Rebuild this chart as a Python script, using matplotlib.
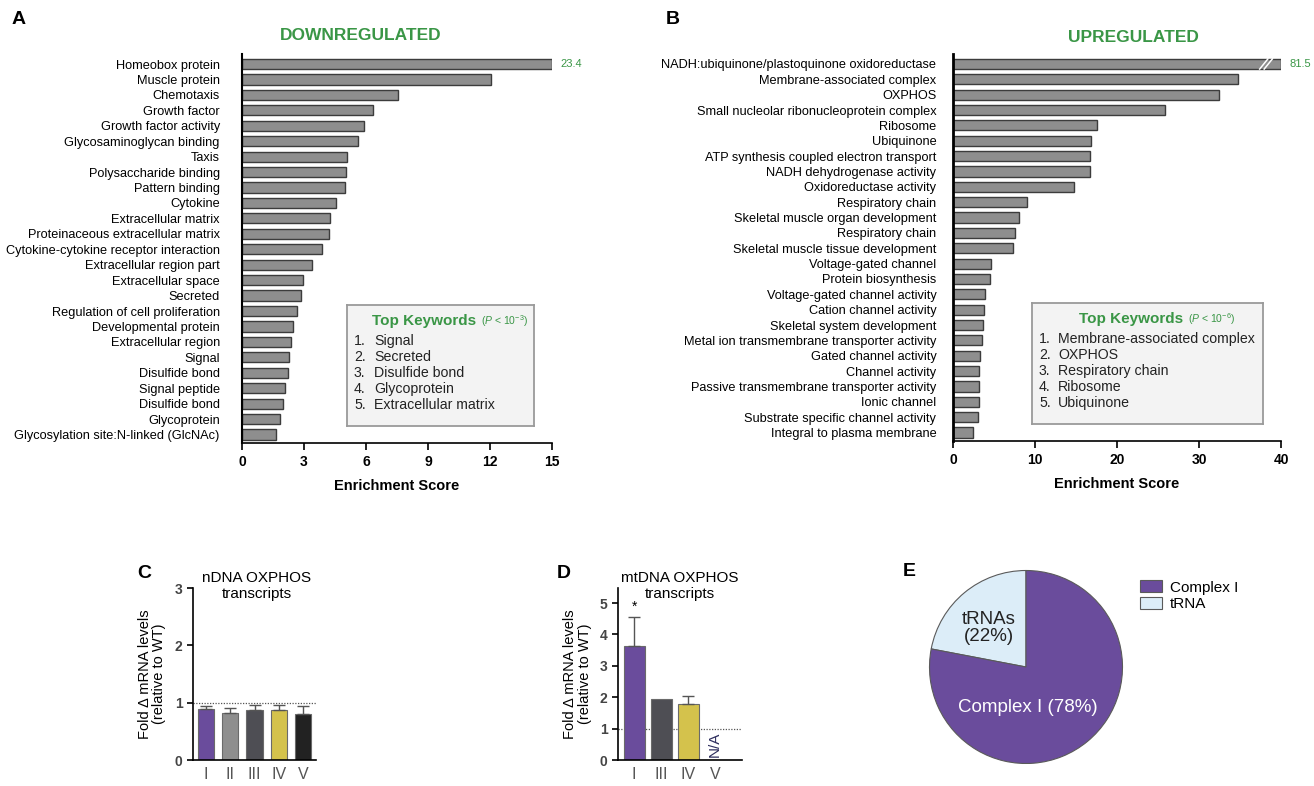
import matplotlib
matplotlib.use("Agg")
import matplotlib.pyplot as plt
from matplotlib.patches import Patch
import numpy as np

plt.rcParams['font.family'] = ['Liberation Sans', 'DejaVu Sans']
plt.rcParams['mathtext.fontset'] = 'custom'
plt.rcParams['mathtext.rm'] = 'Liberation Sans'
plt.rcParams['mathtext.it'] = 'Liberation Sans:italic'

# ---- data ----
down_terms = ["Homeobox protein", "Muscle protein", "Chemotaxis", "Growth factor",
              "Growth factor activity", "Glycosaminoglycan binding", "Taxis",
              "Polysaccharide binding", "Pattern binding", "Cytokine",
              "Extracellular matrix", "Proteinaceous extracellular matrix",
              "Cytokine-cytokine receptor interaction", "Extracellular region part",
              "Extracellular space", "Secreted", "Regulation of cell proliferation",
              "Developmental protein", "Extracellular region", "Signal",
              "Disulfide bond", "Signal peptide", "Disulfide bond", "Glycoprotein",
              "Glycosylation site:N-linked (GlcNAc)"]
down_scores = [23.4, 12.05, 7.57, 6.35, 5.91, 5.62, 5.09, 5.01, 5.0, 4.56,
               4.25, 4.22, 3.85, 3.40, 2.95, 2.85, 2.64, 2.48, 2.35, 2.29,
               2.24, 2.10, 2.0, 1.86, 1.66]
down_keywords = ["Signal", "Secreted", "Disulfide bond", "Glycoprotein",
                 "Extracellular matrix"]

up_terms = ["NADH:ubiquinone/plastoquinone oxidoreductase", "Membrane-associated complex",
            "OXPHOS", "Small nucleolar ribonucleoprotein complex", "Ribosome",
            "Ubiquinone", "ATP synthesis coupled electron transport",
            "NADH dehydrogenase activity", "Oxidoreductase activity",
            "Respiratory chain", "Skeletal muscle organ development",
            "Respiratory chain", "Skeletal muscle tissue development",
            "Voltage-gated channel", "Protein biosynthesis",
            "Voltage-gated channel activity", "Cation channel activity",
            "Skeletal system development", "Metal ion transmembrane transporter activity",
            "Gated channel activity", "Channel activity",
            "Passive transmembrane transporter activity", "Ionic channel",
            "Substrate specific channel activity", "Integral to plasma membrane"]
up_scores = [81.5, 34.7, 32.4, 25.9, 17.56, 16.83, 16.75, 16.67, 14.8, 9.07,
             8.1, 7.6, 7.28, 4.68, 4.56, 3.95, 3.83, 3.62, 3.5, 3.34,
             3.22, 3.22, 3.13, 3.05, 2.4]
up_keywords = ["Membrane-associated complex", "OXPHOS", "Respiratory chain",
               "Ribosome", "Ubiquinone"]

ndna_complexes = ["I", "II", "III", "IV", "V"]
ndna_mean = [0.885, 0.82, 0.88, 0.87, 0.81]
ndna_err = [0.055, 0.08, 0.075, 0.085, 0.14]

mtdna_complexes = ["I", "III", "IV", "V"]
mtdna_mean = [3.63, 1.94, 1.79, 0.0]
mtdna_err = [0.92, 0.0, 0.24, 0.0]

pie_labels = ["Complex I", "tRNA"]
pie_share = [78, 22]

W, H = 1314, 786
GREEN = "#3a9646"
PURPLE = "#6a4c9c"
LIGHTBLUE = "#dcedf8"
BAR_GRAY = "#8e8e8e"
BAR_EDGE = "#3c3c3c"

fig = plt.figure(figsize=(W / 100, H / 100), dpi=100)


def px_axes(left, top, right, bottom, **kw):
    return fig.add_axes([left / W, 1 - bottom / H, (right - left) / W, (bottom - top) / H], **kw)


def fig_text(x, y, s, **kw):
    fig.text(x / W, 1 - y / H, s, **kw)


def enrichment_panel(ax, terms, scores, xmax, xticks, lab_pad):
    y = np.arange(len(terms))
    shown = np.minimum(scores, xmax)
    ax.barh(y, shown, height=0.66, color=BAR_GRAY, edgecolor=BAR_EDGE, linewidth=1.0)
    ax.set_xlim(0, xmax)
    ax.set_ylim(len(terms) - 0.45, -0.65)
    ax.set_yticks(y)
    ax.set_yticklabels(terms, fontsize=9.2)
    ax.tick_params(axis='y', length=0, pad=lab_pad)
    ax.set_xticks(xticks)
    ax.set_xticklabels([str(t) for t in xticks], fontsize=10, fontweight='bold')
    ax.tick_params(axis='x', length=5, width=1.2, direction='out')
    for s in ['top', 'right']:
        ax.spines[s].set_visible(False)
    ax.spines['left'].set_linewidth(1.5)
    ax.spines['bottom'].set_linewidth(1.2)
    ax.set_xlabel("Enrichment Score", fontsize=10.5, fontweight='bold', labelpad=7)
    # value of the clipped top bar
    ax.text(xmax * 1.027, 0, f"{scores[0]}", color=GREEN, fontsize=8, va='center',
            ha='left', clip_on=False)


def keyword_box(left, top, right, bottom, ptxt, items, num_x, txt_x):
    bx = px_axes(left, top, right, bottom)
    bx.set_facecolor("#f3f3f3")
    for s in bx.spines.values():
        s.set_edgecolor("#9a9a9a")
        s.set_linewidth(1.3)
    bx.set_xticks([])
    bx.set_yticks([])
    bx.set_xlim(left, right)
    bx.set_ylim(bottom, top)
    t = bx.text((left + right) / 2 - 16, top + 16, "Top Keywords", color=GREEN,
                fontsize=11, fontweight='bold', ha='center', va='center')
    bx.annotate(ptxt, xy=(1, 0.5), xycoords=t, xytext=(3, 0), textcoords='offset points',
                color=GREEN, fontsize=7.5, va='center', ha='left')
    for i, it in enumerate(items):
        yy = top + 36 + i * 16
        bx.text(num_x, yy, f"{i + 1}.", fontsize=10.2, va='center', ha='left', color="#222222")
        bx.text(txt_x, yy, it, fontsize=10.2, va='center', ha='left', color="#222222")


# ---- Panel A ----
axA = px_axes(242, 54, 552, 443)
enrichment_panel(axA, down_terms, down_scores, 15, [0, 3, 6, 9, 12, 15], 16)
fig_text(361, 36, "DOWNREGULATED", color=GREEN, fontsize=12.5, fontweight='bold', ha='center', va='center')
fig_text(12, 20, "A", fontsize=14, fontweight='bold', va='center')
keyword_box(347, 305, 534, 426, "($P$ < 10$^{-3}$)", down_keywords, 354, 374)

# ---- Panel B ----
axB = px_axes(953, 54, 1281, 441)
enrichment_panel(axB, up_terms, up_scores, 40, [0, 10, 20, 30, 40], 12)
axB.spines['left'].set_linewidth(2.0)
# axis-break marks on the clipped bar
for dx in (0, 0.55):
    axB.plot([37.4 + dx, 38.4 + dx], [0.33, -0.33], color='white', lw=1.1, zorder=5)
fig_text(1133, 38, "UPREGULATED", color=GREEN, fontsize=12.5, fontweight='bold', ha='center', va='center')
fig_text(666, 20, "B", fontsize=14, fontweight='bold', va='center')
keyword_box(1032, 303, 1263, 424, "($P$ < 10$^{-6}$)", up_keywords, 1039, 1058)


def small_bar_panel(ax, cats, means, errs, colors, ymax, yticks, width, xlim):
    x = np.arange(len(cats))
    ax.axhline(1, color='#555555', lw=0.9, ls=(0, (1, 1.2)), zorder=1)
    ax.bar(x, means, width=width, color=colors, edgecolor='#6a6a6a', linewidth=0.8, zorder=2)
    for xi, m, e in zip(x, means, errs):
        if e > 0:
            ax.errorbar(xi, m, yerr=[[0], [e]], color='#555555', lw=1.0, capsize=4,
                        capthick=1.0, zorder=3)
    ax.set_xlim(*xlim)
    ax.set_ylim(0, ymax)
    ax.set_yticks(yticks)
    ax.set_yticklabels([str(t) for t in yticks], fontsize=10, fontweight='bold', color='#444444')
    ax.set_xticks(x)
    ax.set_xticklabels(cats, fontsize=11.5, color='#555555')
    ax.tick_params(axis='x', length=0, pad=5)
    ax.tick_params(axis='y', length=4, width=1.2)
    for s in ['top', 'right']:
        ax.spines[s].set_visible(False)
    ax.spines['left'].set_linewidth(1.2)
    ax.spines['bottom'].set_linewidth(1.2)
    ax.set_ylabel("Fold \u0394 mRNA levels\n(relative to WT)", fontsize=10.5, labelpad=6,
                  linespacing=1.05)
    return x


# ---- Panel C ----
axC = px_axes(193, 588, 316, 760)
small_bar_panel(axC, ndna_complexes, ndna_mean, ndna_err,
                [PURPLE, "#8e8e8e", "#4e4e54", "#d4c24c", "#222222"],
                3, [0, 1, 2, 3], 0.68, (-0.53, 4.53))
fig_text(257, 586, "nDNA OXPHOS\ntranscripts", fontsize=11, ha='center', va='center', linespacing=1.25)
fig_text(137, 574, "C", fontsize=14, fontweight='bold', va='center')

# ---- Panel D ----
axD = px_axes(618, 588, 742, 760)
xd = small_bar_panel(axD, mtdna_complexes, mtdna_mean, mtdna_err,
                     [PURPLE, "#4e4e54", "#d4c24c", "#ffffff"],
                     5.48, [0, 1, 2, 3, 4, 5], 0.78, (-0.6, 4.0))
axD.text(xd[0], mtdna_mean[0] + mtdna_err[0] + 0.12, "*", ha='center', va='bottom', fontsize=10)
axD.text(xd[3], 0.08, "N/A", rotation=90, ha='center', va='bottom', fontsize=11, color='#2e2e5e')
fig_text(680, 586, "mtDNA OXPHOS\ntranscripts", fontsize=11, ha='center', va='center', linespacing=1.25)
fig_text(557, 574, "D", fontsize=14, fontweight='bold', va='center')

# ---- Panel E ----
axE = px_axes(926, 567, 1126, 767)
axE.pie([pie_share[1], pie_share[0]], colors=[LIGHTBLUE, PURPLE], startangle=90,
        counterclock=True, radius=0.965,
        wedgeprops=dict(edgecolor='#5a5a5a', linewidth=0.8))
axE.set_xlim(-1, 1)
axE.set_ylim(-1, 1)
axE.text(-0.37, 0.39, f"tRNAs\n({pie_share[1]}%)", ha='center', va='center', fontsize=13.5,
         color='#222222', linespacing=1.0)
axE.text(0.02, -0.40, f"Complex I ({pie_share[0]}%)", ha='center', va='center', fontsize=13.5,
         color='white')
fig_text(903, 572, "E", fontsize=14, fontweight='bold', va='center')
handles = [Patch(facecolor=PURPLE, edgecolor='#5a5a5a', lw=0.8),
           Patch(facecolor=LIGHTBLUE, edgecolor='#5a5a5a', lw=0.8)]
fig.legend(handles, pie_labels, loc='upper left', bbox_to_anchor=(1128 / W, 1 - 568 / H),
           frameon=False, fontsize=11, handlelength=1.4, handleheight=0.85,
           handletextpad=0.55, labelspacing=0.15, borderpad=0.3)

fig.savefig("out.png", dpi=100)
